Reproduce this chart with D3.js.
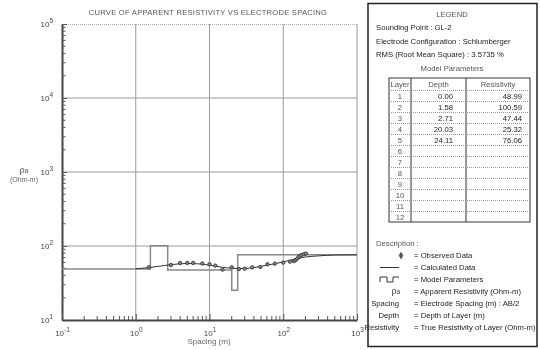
<!DOCTYPE html>
<html>
<head>
<meta charset="utf-8">
<script src="https://cdn.jsdelivr.net/npm/d3@7"></script>
<style>
  body { margin: 0; background: #fff; }
  svg { display: block; font-family: "Liberation Sans", Arial, sans-serif; will-change: transform; }
</style>
</head>
<body>
<div id="chart"></div>
<script>
// observed field data (AB/2 in m, apparent resistivity in Ohm-m)
const obsSpacing = [1.5, 3, 4, 5, 6, 8, 10, 12, 15, 20, 25, 30, 38, 49, 61, 77, 100, 123, 139, 147, 155, 163, 175, 190, 203];
const obsRho = [51.5, 55.4, 58.9, 59, 59, 58, 56.6, 54.3, 48, 51.5, 48.9, 49.5, 51.5, 52, 56.6, 57.8, 59.6, 61.5, 62.7, 64.5, 67.5, 71.9, 75.5, 77.2, 79];

// calculated curve
const calcSpacing = [1, 1.5, 2, 3, 4, 5, 6, 8, 10, 12, 15, 20, 25, 30, 40, 50, 60, 80, 100, 150, 200, 300, 500, 1000];
const calcRho = [49.2, 51, 53, 56, 57.5, 58, 57.8, 56.8, 55, 53.5, 51.5, 50, 49.5, 49.8, 51, 53, 55, 58, 61, 67, 71, 73.5, 75.5, 76];

// model parameters
const layers = [1, 2, 3, 4, 5, 6, 7, 8, 9, 10, 11, 12];
const depths = ['0.00', '1.58', '2.71', '20.03', '24.11'];
const resist = ['48.99', '100.59', '47.44', '25.32', '76.06'];

const xTicks = [0.1, 1, 10, 100, 1000];
const yTicks = [10, 100, 1000, 10000, 100000];

const width = 540, height = 350;
const svg = d3.select('#chart').append('svg').attr('width', width).attr('height', height);

const x = d3.scaleLog().domain([0.1, 1000]).range([62, 357]);
const y = d3.scaleLog().domain([10, 100000]).range([320, 24]);

const minorX = [], minorY = [];
for (let e = -1; e < 3; e++) for (let m = 2; m <= 9; m++) minorX.push(m * Math.pow(10, e));
for (let e = 1; e < 5; e++) for (let m = 2; m <= 9; m++) minorY.push(m * Math.pow(10, e));

// title
svg.append('text')
  .attr('x', 208).attr('y', 15)
  .attr('text-anchor', 'middle')
  .attr('font-size', 7.6).attr('letter-spacing', 0.25)
  .attr('fill', '#555')
  .text('CURVE OF APPARENT RESISTIVITY VS ELECTRODE SPACING');

// grid
const grid = svg.append('g');
grid.selectAll('.gy').data(yTicks.slice(1, -1)).join('line')
  .attr('x1', 62).attr('x2', 357)
  .attr('y1', (d) => y(d)).attr('y2', (d) => y(d))
  .attr('stroke', '#bbb').attr('stroke-width', 1.5);
grid.selectAll('.gx').data(xTicks.slice(1, -1)).join('line')
  .attr('x1', (d) => x(d)).attr('x2', (d) => x(d))
  .attr('y1', 24).attr('y2', 320)
  .attr('stroke', '#999').attr('stroke-width', 1);
// frame top / right
svg.append('line').attr('x1', 62).attr('x2', 357).attr('y1', 24.5).attr('y2', 24.5)
  .attr('stroke', '#aaa').attr('stroke-dasharray', '1,1');
svg.append('line').attr('x1', 357).attr('x2', 357).attr('y1', 24).attr('y2', 320)
  .attr('stroke', '#999');

function pow10(sel, fs) {
  sel.each(function (d) {
    const t = d3.select(this);
    const e = Math.round(Math.log10(d));
    t.text('');
    t.append('tspan').text('10');
    t.append('tspan').attr('dy', -4).attr('font-size', fs).text(e);
  });
}

// left axis
const yAxis = svg.append('g').attr('transform', 'translate(62,0)')
  .call(d3.axisLeft(y).tickValues(yTicks).tickSizeInner(-5).tickSizeOuter(0).tickPadding(9));
yAxis.select('.domain').attr('stroke', '#444').attr('stroke-width', 2);
yAxis.selectAll('.tick line').attr('stroke', '#555');
yAxis.selectAll('.tick text').attr('font-size', 8).attr('fill', '#444').call(pow10, 6.5);
svg.append('g').selectAll('line').data(minorY).join('line')
  .attr('x1', 62).attr('x2', 65.5)
  .attr('y1', (d) => y(d)).attr('y2', (d) => y(d))
  .attr('stroke', '#555');

// bottom axis
const xAxis = svg.append('g').attr('transform', 'translate(0,320)')
  .call(d3.axisBottom(x).tickValues(xTicks).tickSizeInner(-6).tickSizeOuter(0).tickPadding(10));
xAxis.select('.domain').attr('stroke', '#444').attr('stroke-width', 2);
xAxis.selectAll('.tick line').attr('stroke', '#555');
xAxis.selectAll('.tick text').attr('font-size', 8).attr('fill', '#444').call(pow10, 6.5);
svg.append('g').selectAll('line').data(minorX).join('line')
  .attr('x1', (d) => x(d)).attr('x2', (d) => x(d))
  .attr('y1', 320).attr('y2', 316)
  .attr('stroke', '#555');

// axis titles
svg.append('text').attr('x', 209).attr('y', 344).attr('text-anchor', 'middle')
  .attr('font-size', 8).attr('fill', '#666').text('Spacing (m)');
const yl = svg.append('text').attr('x', 24).attr('y', 173).attr('text-anchor', 'middle')
  .attr('font-size', 9).attr('fill', '#555');
yl.append('tspan').text('ρ');
yl.append('tspan').attr('font-size', 7).text('a');
svg.append('text').attr('x', 24).attr('y', 182).attr('text-anchor', 'middle')
  .attr('font-size', 7).attr('fill', '#666').text('(Ohm-m)');

// model step line
const tops = depths.map(Number);
const rhos = resist.map(Number);
const steps = [];
for (let i = 0; i < rhos.length; i++) {
  const x0 = i === 0 ? 0.1 : tops[i];
  const x1 = i === rhos.length - 1 ? 1000 : tops[i + 1];
  steps.push([x0, rhos[i]], [x1, rhos[i]]);
}
svg.append('path').datum(steps)
  .attr('d', d3.line().x((d) => x(d[0])).y((d) => y(d[1])))
  .attr('fill', 'none').attr('stroke', '#888').attr('stroke-width', 1.5);

// calculated curve
svg.append('path').datum(d3.zip(calcSpacing, calcRho))
  .attr('d', d3.line().curve(d3.curveMonotoneX).x((d) => x(d[0])).y((d) => y(d[1])))
  .attr('fill', 'none').attr('stroke', '#333').attr('stroke-width', 1);

// observed points
svg.append('g').selectAll('path').data(d3.zip(obsSpacing, obsRho)).join('path')
  .attr('d', d3.symbol(d3.symbolCircle, 9))
  .attr('transform', (d) => `translate(${x(d[0])},${y(d[1])})`)
  .attr('fill', '#888').attr('stroke', '#333').attr('stroke-width', 0.9);

// ---- legend panel ----
const lg = svg.append('g');
lg.append('rect').attr('x', 368).attr('y', 3.5).attr('width', 169).attr('height', 343)
  .attr('fill', '#fff').attr('stroke', '#222').attr('stroke-width', 1.5);
const txt = (xx, yy, s, anchor) => lg.append('text').attr('x', xx).attr('y', yy)
  .attr('text-anchor', anchor || 'start').attr('font-size', 7.7).attr('fill', '#222').text(s);

txt(452, 17, 'LEGEND', 'middle').attr('fill', '#555');
txt(376, 30, 'Sounding Point  :  GL-2');
txt(376, 44, 'Electrode Configuration  :  Schlumberger');
txt(376, 57, 'RMS (Root Mean Square)  :  3.5735 %');
txt(452, 71, 'Model  Parameters', 'middle').attr('fill', '#555');

// table
const tx0 = 389, tx1 = 411, tx2 = 466, tx3 = 530;
const ty0 = 78, hh = 12, rh = 11;
const ty1 = ty0 + hh, ty2 = ty1 + rh * layers.length;
lg.append('rect').attr('x', tx0).attr('y', ty0).attr('width', tx3 - tx0).attr('height', ty2 - ty0)
  .attr('fill', 'none').attr('stroke', '#333').attr('stroke-width', 1);
[tx1, tx2].forEach((v) => lg.append('line').attr('x1', v).attr('x2', v).attr('y1', ty0).attr('y2', ty2)
  .attr('stroke', '#333'));
lg.append('g').selectAll('line').data(layers).join('line')
  .attr('x1', tx0).attr('x2', tx3)
  .attr('y1', (d, i) => ty1 + i * rh + 0.5).attr('y2', (d, i) => ty1 + i * rh + 0.5)
  .attr('stroke', '#999').attr('stroke-dasharray', '1,1');
txt((tx0 + tx1) / 2, ty0 + 9, 'Layer', 'middle').attr('fill', '#555');
txt((tx1 + tx2) / 2, ty0 + 9, 'Depth', 'middle').attr('fill', '#555');
txt((tx2 + tx3) / 2, ty0 + 9, 'Resistivity', 'middle').attr('fill', '#555');
layers.forEach((l, i) => {
  const yy = ty1 + i * rh + 8.5;
  txt((tx0 + tx1) / 2, yy, String(l), 'middle').attr('fill', '#555');
  if (i < depths.length) {
    txt(tx2 - 13, yy, depths[i], 'end');
    txt(tx3 - 8, yy, resist[i], 'end');
  }
});

// description
txt(376, 246, 'Description  :').attr('fill', '#555');
const descY = [258, 270, 282, 294, 306, 318, 330];
const eqX = 414;
lg.append('path').attr('d', d3.symbol(d3.symbolDiamond, 12))
  .attr('transform', `translate(401,${descY[0] - 2.5})`).attr('fill', '#555').attr('stroke', '#333').attr('stroke-width', 0.6);
lg.append('line').attr('x1', 380).attr('x2', 399).attr('y1', descY[1] - 2.5).attr('y2', descY[1] - 2.5)
  .attr('stroke', '#333');
lg.append('path').attr('d', `M380,${descY[2]}V${descY[2] - 5}H387V${descY[2]}H393V${descY[2] - 5}H399`)
  .attr('fill', 'none').attr('stroke', '#333');
const rl = lg.append('text').attr('x', 400).attr('y', descY[3]).attr('text-anchor', 'end')
  .attr('font-size', 8.5).attr('fill', '#333');
rl.append('tspan').text('ρ');
rl.append('tspan').attr('font-size', 6.5).text('a');
txt(399, descY[4], 'Spacing', 'end');
txt(399, descY[5], 'Depth', 'end');
txt(399, descY[6], 'Resistivity', 'end');
const descs = ['Observed Data', 'Calculated Data', 'Model Parameters', 'Apparent Resistivity (Ohm-m)',
  'Electrode Spacing (m)  :  AB/2', 'Depth of Layer (m)', 'True Resistivity of Layer (Ohm-m)'];
descs.forEach((s, i) => txt(eqX, descY[i], '=  ' + s));
</script>
</body>
</html>
